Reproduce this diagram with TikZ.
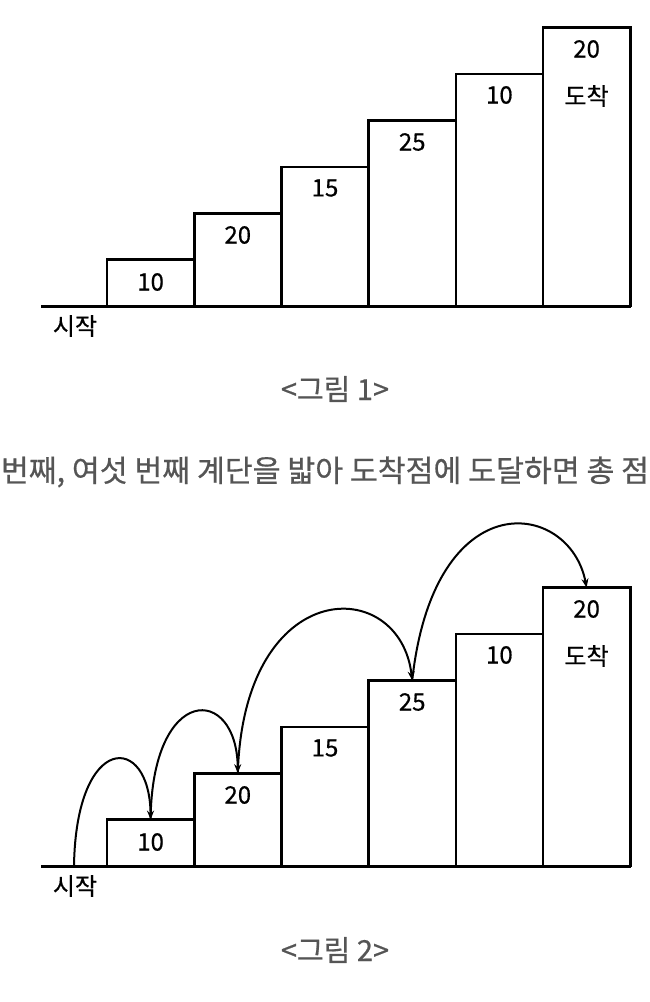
\documentclass[tikz,border=0pt]{standalone}
\usepackage{fontspec}
\usepackage{tikz}
\usetikzlibrary{arrows.meta, positioning}
\newfontfamily\kor[FakeBold=0.6]{Noto Sans CJK KR}
\definecolor{capgray}{RGB}{85,85,85}

\begin{document}
\begin{tikzpicture}[x=1pt, y=-1pt,
  stepbox/.style={draw, line width=2.6pt, minimum width=87.2pt, inner sep=0pt,
                  outer sep=0pt, anchor=south west},
  steplabel/.style={font=\kor\fontsize{24}{28}\selectfont, inner sep=1pt},
  figcap/.style={font=\kor\fontsize{29}{34}\selectfont, text=capgray, inner sep=1pt},
  ground/.style={line width=3pt},
  jump/.style={line width=2pt, -{Stealth[length=9pt, width=7pt]}}]
  \useasboundingbox (0,0) rectangle (650,1002);
  \clip (0,0) rectangle (650,1002);
  % figure 1
  \node[stepbox, minimum height=46.4pt]  (a1) at (107,306) {};
  \node[stepbox, minimum height=92.8pt]  (a2) at (194.2,306) {};
  \node[stepbox, minimum height=139.2pt] (a3) at (281.4,306) {};
  \node[stepbox, minimum height=185.6pt] (a4) at (368.6,306) {};
  \node[stepbox, minimum height=232pt]   (a5) at (455.8,306) {};
  \node[stepbox, minimum height=278.4pt] (a6) at (543,306) {};
  \coordinate (ga0) at (41,306);
  \coordinate (ga1) at (631,306);
  \draw[ground] (ga0) -- (ga1);
  \node[steplabel] (la1) at (150.6,282) {10};
  \node[steplabel] (la2) at (237.8,235) {20};
  \node[steplabel] (la3) at (325,188) {15};
  \node[steplabel] (la4) at (412.2,142) {25};
  \node[steplabel] (la5) at (499.4,95) {10};
  \node[steplabel] (la6) at (586.6,49) {20};
  \node[steplabel] (enda) at (586.6,96) {도착};
  \node[steplabel] (starta) at (75,326) {시작};
  \node[figcap] (capa) at (335,389) {<그림 1>};
  % sentence across the full width
  \node[figcap, font=\kor\fontsize{30.3}{35}\selectfont] (line) at (325,472)
    {번째, 여섯 번째 계단을 밟아 도착점에 도달하면 총 점};
  % figure 2
  \node[stepbox, minimum height=46.4pt]  (b1) at (107,866) {};
  \node[stepbox, minimum height=92.8pt]  (b2) at (194.2,866) {};
  \node[stepbox, minimum height=139.2pt] (b3) at (281.4,866) {};
  \node[stepbox, minimum height=185.6pt] (b4) at (368.6,866) {};
  \node[stepbox, minimum height=232pt]   (b5) at (455.8,866) {};
  \node[stepbox, minimum height=278.4pt] (b6) at (543,866) {};
  \coordinate (gb0) at (41,866);
  \coordinate (gb1) at (631,866);
  \draw[ground] (gb0) -- (gb1);
  \node[steplabel] (lb1) at (150.6,842) {10};
  \node[steplabel] (lb2) at (237.8,795) {20};
  \node[steplabel] (lb3) at (325,748) {15};
  \node[steplabel] (lb4) at (412.2,702) {25};
  \node[steplabel] (lb5) at (499.4,655) {10};
  \node[steplabel] (lb6) at (586.6,609) {20};
  \node[steplabel] (endb) at (586.6,656) {도착};
  \node[steplabel] (startb) at (75,886) {시작};
  \node[figcap] (capb) at (335,950) {<그림 2>};
  % jumps
  \coordinate (s0) at (74,866);
  \draw[jump] (s0) .. controls +(2,-134) and +(-0.6,-87) .. (b1.north);
  \draw[jump] (b1.north) .. controls +(1.4,-136) and +(-0.8,-89) .. (b2.north);
  \draw[jump] (b2.north) .. controls +(6,-199) and +(-12,-106) .. (b4.north);
  \draw[jump] (b4.north) .. controls +(22,-200) and +(-16.6,-87.6) .. (b6.north);
\end{tikzpicture}
\end{document}
